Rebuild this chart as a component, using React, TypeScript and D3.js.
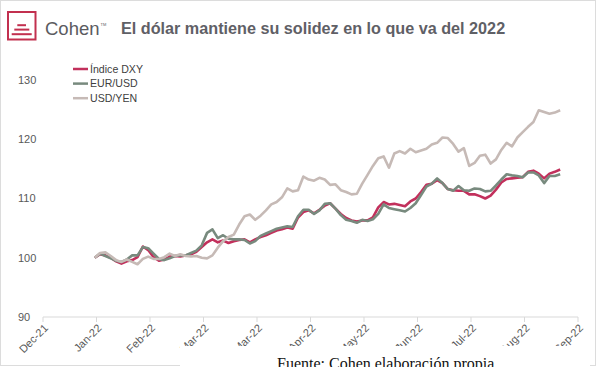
import React from "react";
import * as d3 from "d3";

// rebased to 100 on the first trading day of 2022, one value every 3 calendar days
const startDate = new Date(2022, 0, 3);
const stepDays = 3;

const dxy = [
  100, 100.6, 100.4, 100.0, 99.4, 99.0, 99.4, 99.6, 100.1, 101.9,
  101.3, 100.1, 99.5, 99.7, 100.2, 100.3, 100.2, 100.4, 100.6, 101.0,
  101.8, 102.6, 103.1, 102.6, 102.9, 102.5, 102.8, 103.0, 103.1, 102.6,
  103.1, 103.5, 103.8, 104.2, 104.6, 104.8, 105.1, 104.9, 106.8, 107.7,
  108.0, 107.5, 108.1, 108.8, 109.2, 108.3, 107.4, 106.7, 106.3, 106.1,
  106.3, 106.3, 106.8, 108.5, 109.4, 109.0, 109.1, 108.9, 108.7, 109.5,
  110.0, 111.1, 112.3, 112.5, 113.1, 112.6, 111.6, 111.4, 111.3, 111.3,
  110.7, 110.7, 110.4, 110.0, 110.5, 111.5, 112.7, 113.3, 113.4, 113.5,
  113.6, 114.5, 114.7, 114.2, 113.4, 114.2, 114.5, 114.9,
];

const eurusd = [
  100, 100.7, 100.3, 99.9, 99.5, 99.3, 99.7, 100.4, 100.4, 101.8,
  101.6, 100.7, 99.8, 99.6, 99.9, 100.3, 100.4, 100.4, 100.8, 101.2,
  102.1, 104.2, 104.8, 103.3, 103.8, 103.2, 103.1, 103.1, 103.0, 102.4,
  102.8, 103.7, 104.1, 104.5, 104.9, 105.1, 105.3, 105.2, 107.0, 108.1,
  108.1, 107.4, 108.0, 109.1, 109.2, 108.3, 107.2, 106.4, 106.2, 105.9,
  106.4, 106.2, 106.5, 107.4, 109.0, 108.4, 108.2, 108.0, 107.8, 108.4,
  109.2, 110.6, 112.0, 112.5, 113.4, 112.6, 111.6, 111.3, 112.1, 111.4,
  111.3, 111.7, 111.6, 111.2, 111.3, 112.2, 113.2, 114.1, 113.9, 113.8,
  113.6, 114.4, 114.4, 113.9, 112.6, 113.8, 113.8, 114.1,
];

const usdyen = [
  100, 100.8, 100.9, 100.3, 99.6, 99.3, 99.7, 99.3, 98.9, 99.8,
  100.2, 99.8, 99.8, 100.1, 100.7, 100.3, 100.6, 100.3, 100.2, 100.3,
  100.0, 99.9, 100.4, 101.7, 102.8, 103.5, 103.9, 105.6, 107.0, 107.3,
  106.4, 107.1, 108.0, 109.0, 109.4, 110.2, 111.7, 111.2, 111.4, 113.7,
  113.2, 113.0, 113.5, 113.2, 112.3, 112.4, 111.4, 111.1, 110.7, 110.8,
  112.5, 114.0, 115.5, 116.8, 117.1, 115.2, 117.6, 118.0, 117.6, 118.4,
  117.8, 118.1, 118.4, 119.1, 119.4, 120.3, 120.2, 119.2, 117.9, 118.5,
  115.5, 116.0, 117.2, 117.4, 115.9, 116.6, 118.2, 119.4, 118.8, 120.3,
  121.2, 122.1, 122.9, 124.9, 124.6, 124.3, 124.5, 124.9,
];

const seriesNames = ["Índice DXY", "EUR/USD", "USD/YEN"];
const seriesColors = ["#c2305c", "#788a7e", "#c6bab6"];
const seriesValues = [dxy, eurusd, usdyen];

const yTicks = [90, 100, 110, 120, 130];
const xTickLabels = [
  "Dec-21", "Jan-22", "Feb-22", "Mar-22", "Mar-22", "Apr-22",
  "May-22", "Jun-22", "Jul-22", "Aug-22", "Sep-22",
];

const W = 600;
const H = 367;

export default function App() {
  const axisStart = new Date(2021, 11, 5);
  const axisEnd = d3.timeDay.offset(axisStart, 30 * (xTickLabels.length - 1));
  const x = d3.scaleTime().domain([axisStart, axisEnd]).range([43, 578]);
  const y = d3.scaleLinear().domain([90, 130]).range([317, 80]);
  const tickDates = xTickLabels.map((_, i) => d3.timeDay.offset(axisStart, 30 * i));

  const line = d3
    .line<number>()
    .x((_, i) => x(d3.timeDay.offset(startDate, i * stepDays)))
    .y((d) => y(d));

  const axisFont = "'Liberation Sans', Arial, sans-serif";

  return (
    <svg
      width={W}
      height={H}
      style={{ position: "absolute", left: 0, top: 0, background: "#fff" }}
    >
      <rect x={0.5} y={0.5} width={595} height={365} fill="#fff" stroke="#dcdcdc" />

      {/* logo */}
      <rect x={8} y={12} width={27.5} height={27.5} fill="none" stroke="#c2304f" strokeWidth={2} />
      <rect x={17.3} y={24.2} width={8.7} height={2} fill="#c2304f" />
      <rect x={14.3} y={28.6} width={15} height={2} fill="#c2304f" />
      <rect x={11.7} y={33.2} width={20} height={2} fill="#c2304f" />
      <text x={45} y={35} fontFamily="'Liberation Sans', Arial, sans-serif" fontSize={18.5} fill="#5b5b5f">
        Cohen
      </text>
      <text x={100.5} y={26} fontFamily={axisFont} fontSize={4} fill="#5b5b5f">
        TM
      </text>

      {/* title */}
      <text
        x={121}
        y={34}
        fontFamily="'Liberation Sans', Arial, sans-serif"
        fontWeight="bold"
        fontSize={16.2}
        fill="#5f6066"
      >
        El dólar mantiene su solidez en lo que va del 2022
      </text>

      {/* y labels */}
      {yTicks.map((t) => (
        <text key={t} x={18} y={y(t)} dy="0.35em" fontFamily={axisFont} fontSize={11} fill="#595959">
          {t}
        </text>
      ))}

      {/* x axis */}
      <line x1={43} x2={578} y1={317} y2={317} stroke="#d9d9d9" />
      {tickDates.map((d, i) => (
        <g key={i}>
          <line x1={x(d)} x2={x(d)} y1={317} y2={322} stroke="#d9d9d9" />
          <text
            transform={`translate(${x(d) + 3},${326}) rotate(-45)`}
            textAnchor="end"
            dy="0.35em"
            fontFamily={axisFont}
            fontSize={11}
            fill="#595959"
          >
            {xTickLabels[i]}
          </text>
        </g>
      ))}

      {/* series */}
      {seriesValues.map((vals, k) => (
        <path
          key={k}
          d={line(vals) || ""}
          fill="none"
          stroke={seriesColors[k]}
          strokeWidth={2.6}
          strokeLinejoin="round"
        />
      ))}

      {/* legend */}
      {seriesNames.map((name, k) => (
        <g key={name} transform={`translate(73,${69 + k * 14.6})`}>
          <line x1={0} x2={15} y1={0} y2={0} stroke={seriesColors[k]} strokeWidth={2.5} />
          <text x={17} y={0} dy="0.35em" fontFamily={axisFont} fontSize={10.6} fill="#404040">
            {name}
          </text>
        </g>
      ))}

      {/* source box */}
      <rect x={180} y={346} width={410} height={21} fill="#fff" />
      <text x={277} y={369} fontFamily="'Liberation Serif', 'Times New Roman', serif" fontSize={16} fill="#111">
        Fuente: Cohen elaboración propia
      </text>
    </svg>
  );
}
